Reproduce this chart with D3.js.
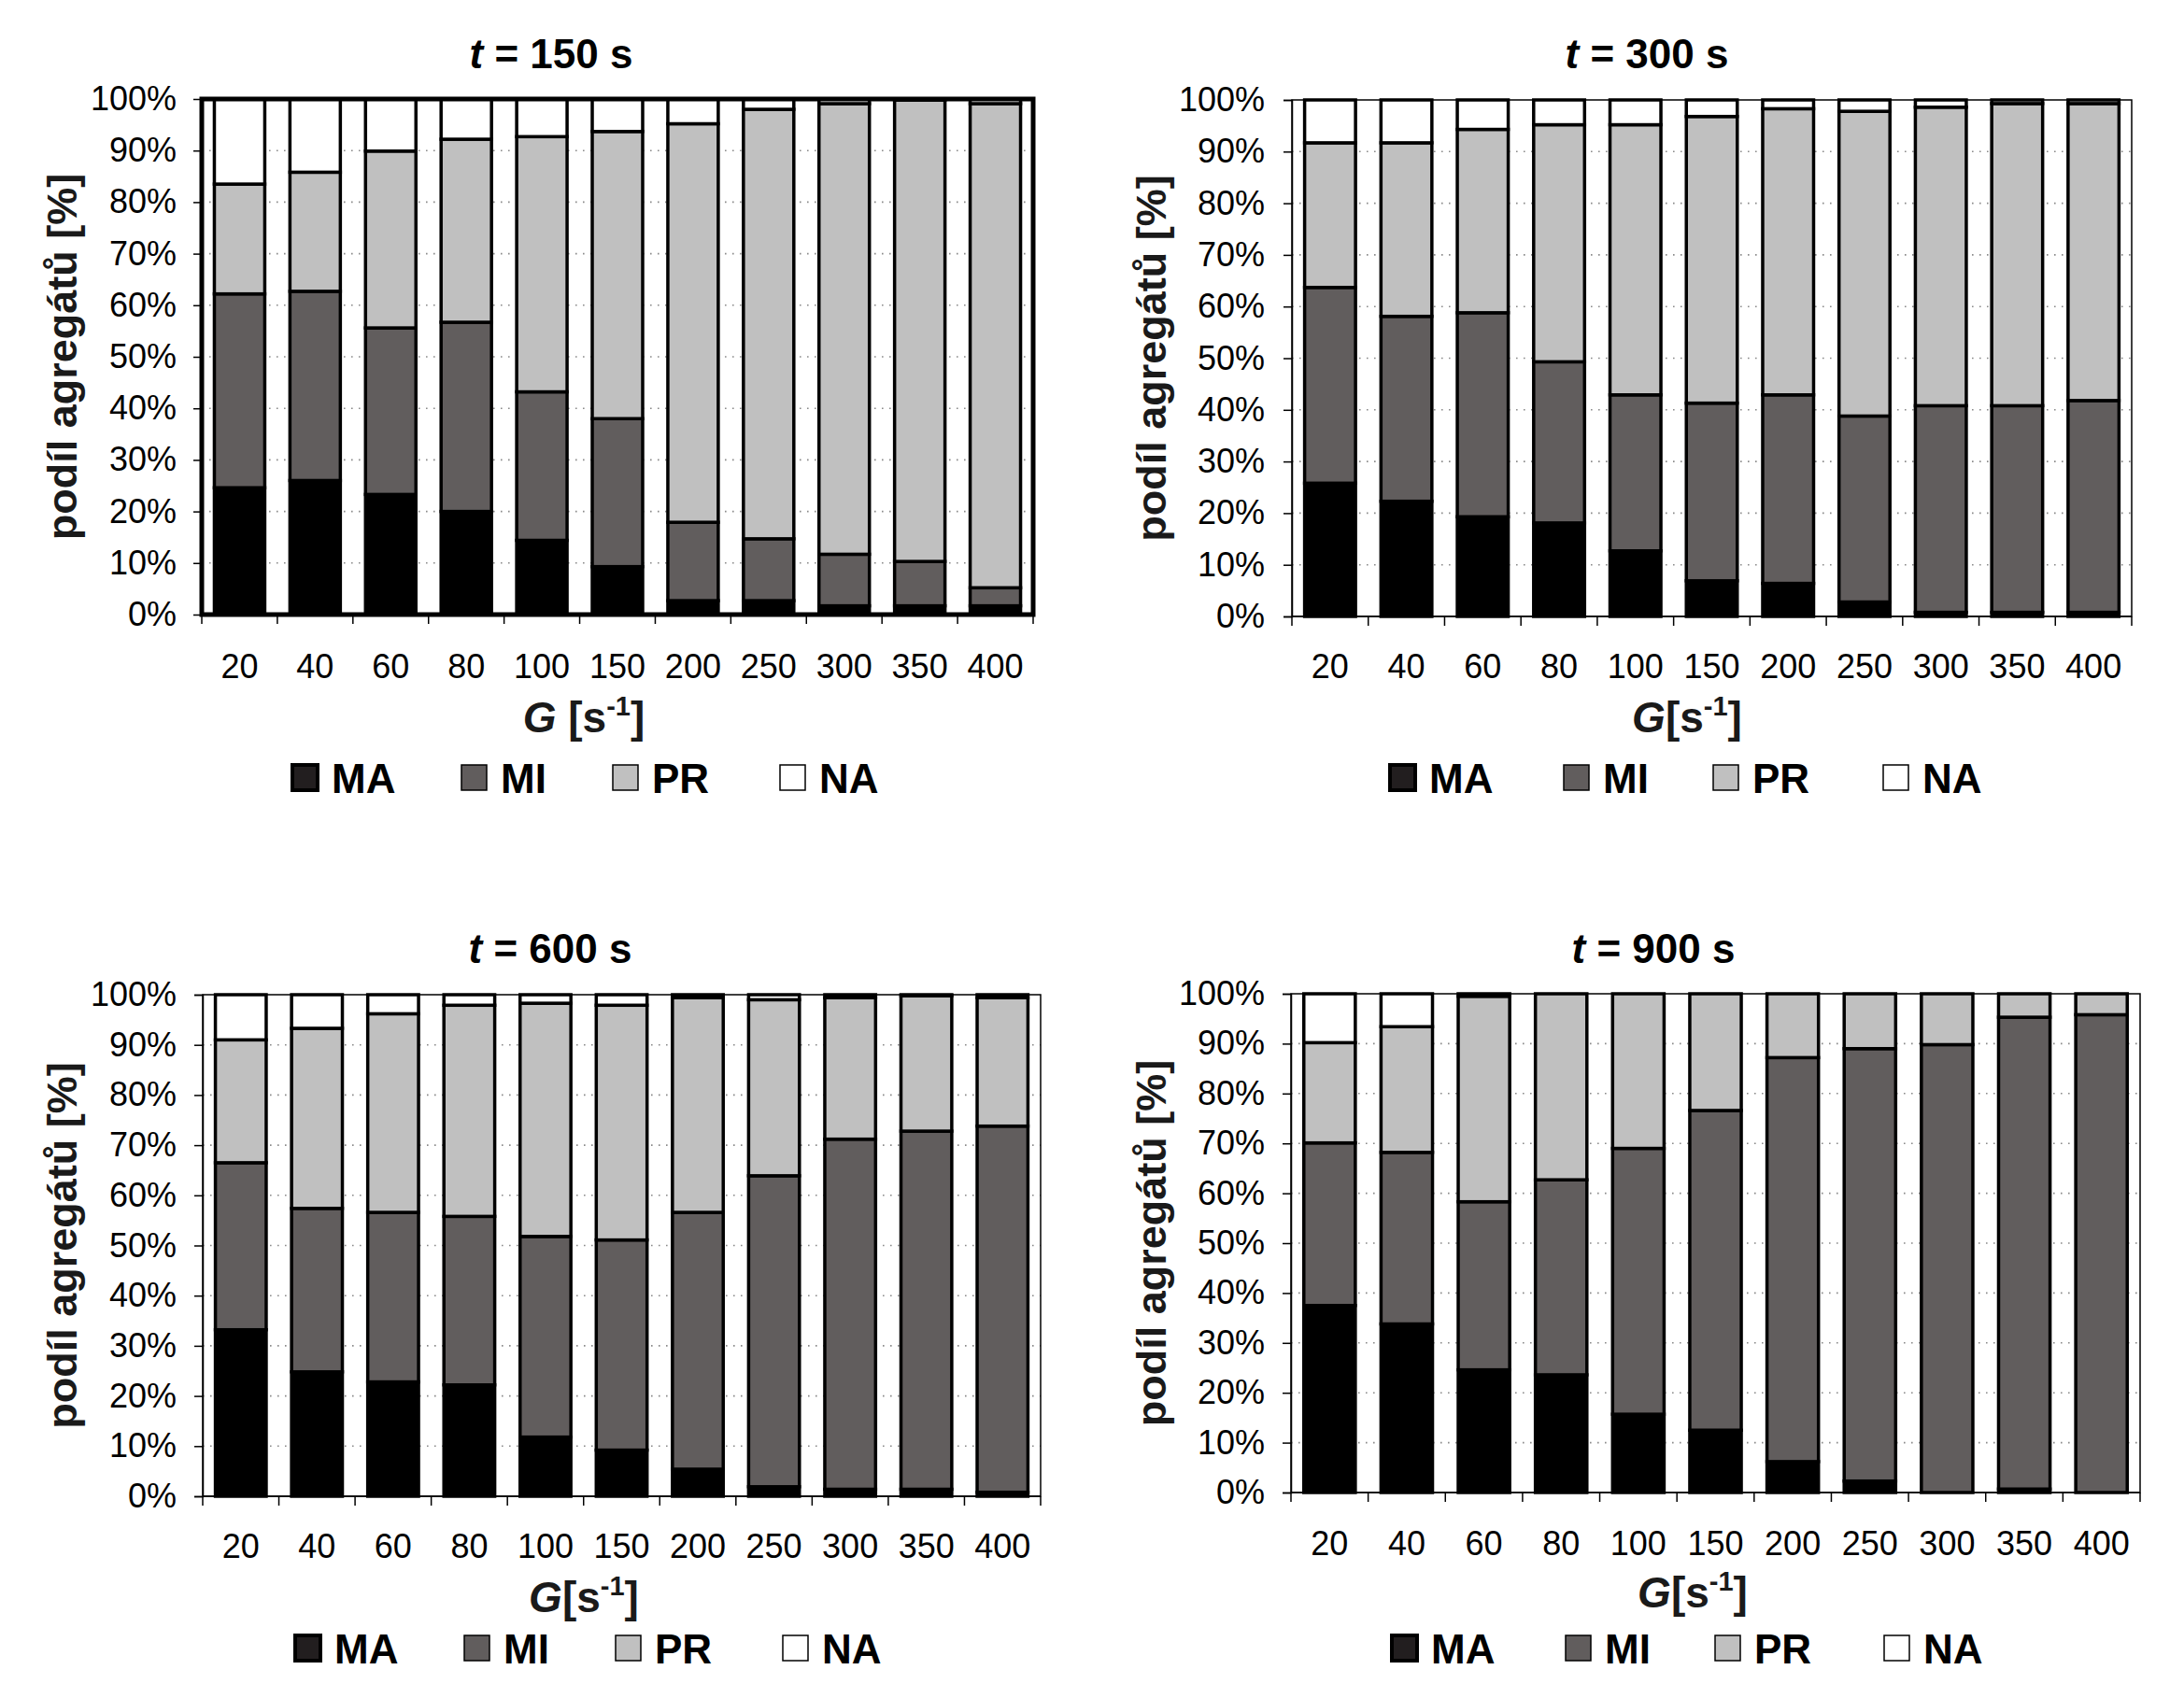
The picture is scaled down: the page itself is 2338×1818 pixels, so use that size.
<!DOCTYPE html>
<html>
<head>
<meta charset="utf-8">
<script src="https://cdn.jsdelivr.net/npm/d3@7"></script>
<style>
html,body{margin:0;padding:0;background:#fff;}
svg{display:block;font-family:"Liberation Sans",Arial,Helvetica,sans-serif;}
</style>
</head>
<body>
<svg id="chart" width="2338" height="1818"></svg>
<script>
// ---------------- DATA ----------------
const categories = ["20","40","60","80","100","150","200","250","300","350","400"];
const seriesNames = ["MA","MI","PR","NA"];
const timeLabels = ["150","300","600","900"];
const yTickValues = [0,10,20,30,40,50,60,70,80,90,100];

// t = 150 s
const ma150 = [24.6, 26.0, 23.3, 20.0, 14.4, 9.3, 2.7, 2.7, 1.7, 1.7, 1.7];
const mi150 = [37.6, 36.7, 32.3, 36.7, 28.8, 28.7, 15.2, 12.0, 10.0, 8.6, 3.5];
const pr150 = [21.3, 23.1, 34.3, 35.5, 49.5, 55.7, 77.3, 83.3, 87.4, 89.5, 93.9];
const na150 = [16.5, 14.2, 10.1, 7.8, 7.3, 6.3, 4.8, 2.0, 0.9, 0.2, 0.9];
// t = 300 s
const ma300 = [25.8, 22.3, 19.3, 18.1, 12.7, 6.9, 6.4, 2.8, 0.8, 0.8, 0.8];
const mi300 = [37.9, 35.8, 39.5, 31.2, 30.2, 34.4, 36.5, 36.0, 40.0, 40.0, 41.0];
const pr300 = [28.0, 33.6, 35.5, 45.9, 52.3, 55.5, 55.4, 59.0, 57.8, 58.5, 57.5];
const na300 = [8.3, 8.3, 5.7, 4.8, 4.8, 3.2, 1.7, 2.2, 1.4, 0.7, 0.7];
// t = 600 s
const ma600 = [33.2, 24.8, 22.8, 22.2, 11.8, 9.2, 5.4, 1.9, 1.4, 1.4, 0.8];
const mi600 = [33.3, 32.6, 33.8, 33.6, 40.0, 41.9, 51.2, 62.0, 69.8, 71.4, 73.0];
const pr600 = [24.5, 35.9, 39.6, 42.1, 46.5, 46.8, 42.8, 35.1, 28.2, 27.0, 25.6];
const na600 = [9.0, 6.7, 3.8, 2.1, 1.7, 2.1, 0.6, 1.0, 0.6, 0.2, 0.6];
// t = 900 s
const ma900 = [37.5, 33.8, 24.6, 23.6, 15.7, 12.5, 6.2, 2.3, 0.0, 0.7, 0.0];
const mi900 = [32.6, 34.4, 33.7, 39.1, 53.3, 64.1, 81.0, 86.7, 89.8, 94.6, 95.8];
const pr900 = [20.1, 25.2, 41.2, 37.3, 31.0, 23.4, 12.8, 11.0, 10.2, 4.7, 4.2];
const na900 = [9.8, 6.6, 0.5, 0.0, 0.0, 0.0, 0.0, 0.0, 0.0, 0.0, 0.0];

// ---------------- STYLE / LAYOUT ----------------
const fills = {MA:"#000000", MI:"#615d5d", PR:"#c0c0c0", NA:"#ffffff"};
const legendFills = {MA:"#221e1f", MI:"#615d5d", PR:"#c0c0c0", NA:"#ffffff"};

const panels = [
  {t:timeLabels[0], series:{MA:ma150,MI:mi150,PR:pr150,NA:na150},
   x0:216, x1:1106, y0:106, y1:658, thick:true,
   titleX:590, titleY:57, yLabelX:66, tickRight:189, xtickY:713,
   xLabelX:625, xLabelY:767, legendY:833, legendX:[313,494,656,835]},
  {t:timeLabels[1], series:{MA:ma300,MI:mi300,PR:pr300,NA:na300},
   x0:1383, x1:2282, y0:107, y1:660, thick:false,
   titleX:1763, titleY:57, yLabelX:1232, tickRight:1354, xtickY:713,
   xLabelX:1806, xLabelY:767, legendY:833, legendX:[1488,1674,1834,2016]},
  {t:timeLabels[2], series:{MA:ma600,MI:mi600,PR:pr600,NA:na600},
   x0:217, x1:1114, y0:1065, y1:1602, thick:false,
   titleX:589, titleY:1015, yLabelX:66, tickRight:189, xtickY:1655,
   xLabelX:625, xLabelY:1709, legendY:1765, legendX:[316,497,659,838]},
  {t:timeLabels[3], series:{MA:ma900,MI:mi900,PR:pr900,NA:na900},
   x0:1382, x1:2291, y0:1064, y1:1598, thick:false,
   titleX:1770, titleY:1015, yLabelX:1232, tickRight:1354, xtickY:1652,
   xLabelX:1812, xLabelY:1704, legendY:1765, legendX:[1490,1676,1836,2017]}
];

const svg = d3.select("#chart");

panels.forEach(p => {
  const g = svg.append("g");
  const x = d3.scaleBand().domain(categories).range([p.x0, p.x1]).paddingInner(0.333).paddingOuter(0.1665);
  const y = d3.scaleLinear().domain([0,100]).range([p.y1, p.y0]);

  // gridlines
  g.append("g").selectAll("line").data(yTickValues.filter(v => v>0 && v<100)).join("line")
    .attr("x1", p.x0).attr("x2", p.x1)
    .attr("y1", d => y(d)).attr("y2", d => y(d))
    .attr("stroke", "#8a8a8a").attr("stroke-width", 1.6)
    .attr("stroke-dasharray", "1.6,6.4");

  // plot border (thin for panels 2-4)
  if (!p.thick) {
    g.append("rect").attr("x", p.x0).attr("y", p.y0)
      .attr("width", p.x1 - p.x0).attr("height", p.y1 - p.y0)
      .attr("fill", "none").attr("stroke", "#000").attr("stroke-width", 1.5);
  }

  // stacked bars
  const rows = categories.map((c, i) => {
    const r = {cat: c};
    seriesNames.forEach(s => r[s] = p.series[s][i]);
    return r;
  });
  const stacked = d3.stack().keys(seriesNames)(rows);
  stacked.forEach(layer => {
    g.append("g").selectAll("rect").data(layer).join("rect")
      .attr("x", d => x(d.data.cat))
      .attr("width", x.bandwidth())
      .attr("y", d => y(d[1]))
      .attr("height", d => Math.max(0, y(d[0]) - y(d[1])))
      .attr("fill", fills[layer.key])
      .attr("stroke", "#000").attr("stroke-width", 3.5);
  });

  if (p.thick) {
    g.append("rect").attr("x", p.x0).attr("y", p.y0)
      .attr("width", p.x1 - p.x0).attr("height", p.y1 - p.y0)
      .attr("fill", "none").attr("stroke", "#000").attr("stroke-width", 5);
  }

  // y axis
  const yAxis = d3.axisLeft(y).tickValues(yTickValues).tickFormat(d => d + "%").tickSize(9).tickPadding(p.x0 - 9 - p.tickRight);
  const ya = g.append("g").attr("transform", `translate(${p.x0},0)`).call(yAxis);
  ya.select(".domain").attr("stroke", "#000").attr("stroke-width", p.thick ? 0 : 1.5);
  ya.selectAll(".tick line").attr("stroke", "#000").attr("stroke-width", 1.5);
  ya.selectAll(".tick text").attr("font-size", 36).attr("fill", "#000")
    .attr("font-family", "Liberation Sans, Arial, sans-serif");

  // x axis: ticks at band boundaries, labels centered
  const bounds = d3.range(categories.length + 1).map(i => p.x0 + i * (p.x1 - p.x0) / categories.length);
  g.append("g").selectAll("line").data(bounds).join("line")
    .attr("x1", d => d).attr("x2", d => d)
    .attr("y1", p.y1).attr("y2", p.y1 + 10)
    .attr("stroke", "#000").attr("stroke-width", 1.5);
  g.append("line").attr("x1", p.x0).attr("x2", p.x1).attr("y1", p.y1).attr("y2", p.y1)
    .attr("stroke", "#000").attr("stroke-width", p.thick ? 0 : 1.5);
  g.append("g").selectAll("text").data(categories).join("text")
    .attr("x", d => x(d) + x.bandwidth() / 2)
    .attr("y", p.xtickY)
    .attr("dy", "0.36em")
    .attr("text-anchor", "middle")
    .attr("font-size", 36)
    .text(d => d);

  // title
  const title = g.append("text").attr("x", p.titleX).attr("y", p.titleY).attr("dy", "0.36em")
    .attr("text-anchor", "middle").attr("font-size", 44).attr("font-weight", "bold");
  title.append("tspan").attr("font-style", "italic").text("t");
  title.append("tspan").text(" = " + p.t + " s");

  // y label
  g.append("text")
    .attr("transform", `translate(${p.yLabelX},${(p.y0 + p.y1) / 2}) rotate(-90)`)
    .attr("dy", "0.36em")
    .attr("text-anchor", "middle").attr("font-size", 45).attr("font-weight", "bold")
    .attr("fill", "#1a1a1a")
    .text("podíl agregátů [%]");

  // x label
  const xl = g.append("text").attr("x", p.xLabelX).attr("y", p.xLabelY).attr("dy", "0.36em")
    .attr("text-anchor", "middle").attr("font-size", 46).attr("font-weight", "bold").attr("fill", "#1a1a1a");
  xl.append("tspan").attr("font-style", "italic").text("G");
  xl.append("tspan").text(p.thick ? " [s" : "[s");
  xl.append("tspan").attr("font-size", 29).attr("dy", "-0.6em").text("-1");
  xl.append("tspan").attr("dy", "0.38em").text("]");

  // legend
  const lg = g.append("g");
  seriesNames.forEach((s, i) => {
    const lx = p.legendX[i];
    lg.append("rect").attr("x", lx).attr("y", p.legendY - 14).attr("width", 27).attr("height", 27)
      .attr("fill", legendFills[s]).attr("stroke", "#000").attr("stroke-width", s === "MA" ? 4 : 1.5);
    lg.append("text").attr("x", lx + 42).attr("y", p.legendY).attr("dy", "0.36em")
      .attr("font-size", 44).attr("font-weight", "bold").text(s);
  });
});
</script>
</body>
</html>
